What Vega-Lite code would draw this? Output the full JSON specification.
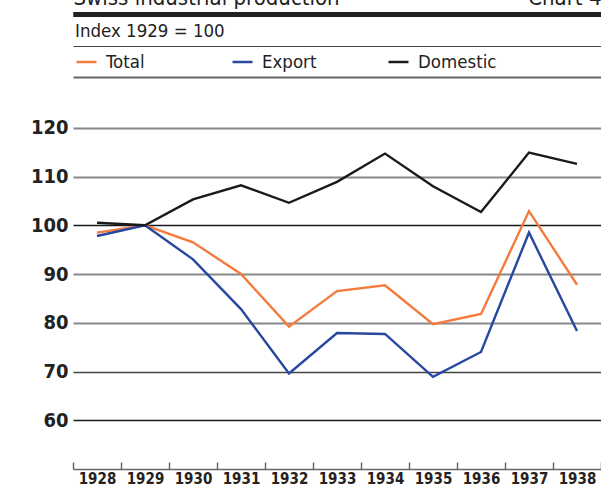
{
  "$schema": "https://vega.github.io/schema/vega-lite/v6.json",
  "width": 528,
  "height": 390,
  "autosize": {"type": "none"},
  "padding": {"left": 73, "top": 79, "right": 0, "bottom": 17},
  "background": "white",
  "config": {"view": {"stroke": null}, "font": "DejaVu Sans Condensed"},
  "datasets": {
    "prod": [
      {"year": "1928", "series": "Total", "value": 98.5},
      {"year": "1929", "series": "Total", "value": 100},
      {"year": "1930", "series": "Total", "value": 96.5},
      {"year": "1931", "series": "Total", "value": 90.0},
      {"year": "1932", "series": "Total", "value": 79.2},
      {"year": "1933", "series": "Total", "value": 86.5},
      {"year": "1934", "series": "Total", "value": 87.7},
      {"year": "1935", "series": "Total", "value": 79.7},
      {"year": "1936", "series": "Total", "value": 81.8},
      {"year": "1937", "series": "Total", "value": 102.9},
      {"year": "1938", "series": "Total", "value": 87.8},
      {"year": "1928", "series": "Export", "value": 97.8},
      {"year": "1929", "series": "Export", "value": 100},
      {"year": "1930", "series": "Export", "value": 93.0},
      {"year": "1931", "series": "Export", "value": 82.8},
      {"year": "1932", "series": "Export", "value": 69.6},
      {"year": "1933", "series": "Export", "value": 77.9},
      {"year": "1934", "series": "Export", "value": 77.7},
      {"year": "1935", "series": "Export", "value": 68.9},
      {"year": "1936", "series": "Export", "value": 74.0},
      {"year": "1937", "series": "Export", "value": 98.5},
      {"year": "1938", "series": "Export", "value": 78.3},
      {"year": "1928", "series": "Domestic", "value": 100.5},
      {"year": "1929", "series": "Domestic", "value": 100},
      {"year": "1930", "series": "Domestic", "value": 105.3},
      {"year": "1931", "series": "Domestic", "value": 108.2},
      {"year": "1932", "series": "Domestic", "value": 104.6},
      {"year": "1933", "series": "Domestic", "value": 108.9},
      {"year": "1934", "series": "Domestic", "value": 114.7},
      {"year": "1935", "series": "Domestic", "value": 108.0},
      {"year": "1936", "series": "Domestic", "value": 102.7},
      {"year": "1937", "series": "Domestic", "value": 114.9},
      {"year": "1938", "series": "Domestic", "value": 112.6}
    ]
  },
  "data": {"name": "prod"},
  "resolve": {"axis": {"x": "independent"}},
  "layer": [
    {
      "mark": {"type": "line", "strokeWidth": 2.4},
      "encoding": {
        "x": {
          "field": "year", "type": "ordinal", "bandPosition": 0.5,
          "scale": {"type": "band", "paddingInner": 0, "paddingOuter": 0},
          "axis": {
            "orient": "bottom", "title": null, "labelAngle": 0,
            "tickBand": "extent", "tickSize": -7, "tickColor": "#666", "tickWidth": 1.5,
            "domainColor": "#666", "domainWidth": 1.5,
            "labelFont": "DejaVu Sans Condensed", "labelFontWeight": "bold", "labelFontSize": 15,
            "labelColor": "#222", "labelPadding": 9, "labelBaseline": "top"
          }
        },
        "y": {
          "field": "value", "type": "quantitative",
          "scale": {"domain": [50, 130], "nice": false, "zero": false},
          "axis": {
            "title": null, "values": [60, 70, 80, 90, 100, 110, 120],
            "domain": false, "ticks": false, "labelPadding": 5,
            "labelFont": "DejaVu Sans Condensed", "labelFontWeight": "bold", "labelFontSize": 20,
            "labelColor": "#222",
            "grid": true,
            "gridColor": {"condition": [
              {"test": "datum.value == 100 || datum.value == 60", "value": "#1a1a1a"},
              {"test": "datum.value == 70", "value": "#444"}
            ], "value": "#888"},
            "gridWidth": {"condition": {"test": "datum.value == 100 || datum.value == 60 || datum.value == 70", "value": 1.5}, "value": 2}
          }
        },
        "color": {
          "field": "series", "type": "nominal",
          "scale": {"domain": ["Total", "Export", "Domestic"], "range": ["#F47B3C", "#2747A0", "#1a1a1a"]},
          "legend": {
            "title": "Index 1929 = 100", "orient": "none", "legendX": 2, "legendY": -57,
            "direction": "horizontal", "columns": 3, "gridAlign": "all", "columnPadding": 42,
            "symbolType": "stroke", "symbolSize": 400, "symbolStrokeWidth": 2.5,
            "labelFont": "DejaVu Sans Condensed", "labelFontSize": 18.5, "labelColor": "#222", "labelOffset": 8,
            "titleFont": "DejaVu Sans Condensed", "titleFontSize": 18.5, "titleFontWeight": "normal",
            "titleColor": "#222", "titlePadding": 10, "padding": 0
          }
        }
      }
    },
    {
      "mark": {"type": "point", "opacity": 0},
      "encoding": {
        "x": {"field": "year", "type": "ordinal", "bandPosition": 0.5,
          "axis": {"orient": "top", "title": null, "labels": false, "ticks": false, "offset": 2, "domainColor": "#666", "domainWidth": 2}}
      }
    },
    {
      "mark": {"type": "point", "opacity": 0},
      "encoding": {
        "x": {"field": "year", "type": "ordinal", "bandPosition": 0.5,
          "axis": {"orient": "top", "title": null, "labels": false, "ticks": false, "offset": 33, "domainColor": "#444", "domainWidth": 1.2}}
      }
    },
    {
      "mark": {"type": "point", "opacity": 0},
      "encoding": {
        "x": {"field": "year", "type": "ordinal", "bandPosition": 0.5,
          "axis": {"orient": "top", "title": "Swiss industrial production", "titleAnchor": "start", "titleAlign": "left", "titleFontSize": 22, "titleFontWeight": "normal", "titleColor": "#222", "titleFont": "DejaVu Sans Condensed", "titleBaseline": "alphabetic", "titlePadding": 10, "labels": false, "ticks": false, "offset": 65, "domainColor": "#222", "domainWidth": 5}}
      }
    },
    {
      "mark": {"type": "point", "opacity": 0},
      "encoding": {
        "x": {"field": "year", "type": "ordinal", "bandPosition": 0.5,
          "axis": {"orient": "top", "title": "Chart 4", "titleAnchor": "end", "titleAlign": "right", "titleFontSize": 22, "titleFontWeight": "normal", "titleColor": "#222", "titleFont": "DejaVu Sans Condensed", "titleBaseline": "alphabetic", "titlePadding": 10, "labels": false, "ticks": false, "offset": 65, "domainColor": "#222", "domainWidth": 5}}
      }
    }
  ]
}
